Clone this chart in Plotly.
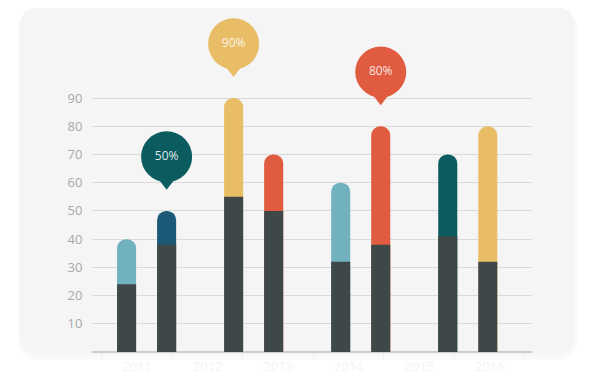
import plotly.graph_objects as go

# ---- data ----
groups = [0, 1, 2, 3]
left_base = [24, 55, 32, 41]
left_total = [40, 90, 60, 70]
right_base = [38, 50, 38, 32]
right_total = [50, 70, 80, 80]
left_colors = ["#72b2bf", "#e9bd66", "#72b2bf", "#0b5c5f"]
right_colors = ["#1b5977", "#e05b3f", "#e05b3f", "#e9bd66"]
base_color = "#3e4848"

years = ["2011", "2012", "2013", "2014", "2015", "2016"]
y_ticks = [10, 20, 30, 40, 50, 60, 70, 80, 90]

# pins: (group, side, colour)
pin_groups = [0, 1, 2]
pin_sides = ["R", "L", "R"]
pin_colors = ["#0b5c5f", "#e9bd66", "#e05b3f"]

# page body has an 8px margin: lay out in reference pixel coords minus OFF
OFF = 8
W, H = 593 - OFF, 386 - OFF
ML, MR, MT, MB = 92 - OFF, 593 - 532, 10 - OFF, 386 - 352
PW, PH = W - ML - MR, H - MT - MB

BW = 0.178      # bar width (axis units)
HALF = 0.187    # centre offset of each bar from the group centre
side_offset = {"L": -HALF - BW / 2, "R": HALF - BW / 2}

fig = go.Figure()

def bar(values, colors, side, rounded):
    fig.add_trace(go.Bar(
        x=groups, y=values, width=BW, offset=side_offset[side],
        marker=dict(color=colors, line=dict(width=0), cornerradius="50%" if rounded else 0),
        hoverinfo="skip", showlegend=False))

bar(left_total, left_colors, "L", True)
bar(right_total, right_colors, "R", True)
bar(left_base, base_color, "L", False)
bar(right_base, base_color, "R", False)

# pins
all_total = {"L": left_total, "R": right_total}
for side in ["L", "R"]:
    idx = [i for i, s in enumerate(pin_sides) if s == side]
    xs = [pin_groups[i] for i in idx]
    tots = [all_total[side][pin_groups[i]] for i in idx]
    cols = [pin_colors[i] for i in idx]
    fig.add_trace(go.Scatter(
        x=xs, y=[t + 10.3 for t in tots], mode="markers", offsetgroup=side,
        alignmentgroup="p",
        marker=dict(symbol="triangle-down", size=16, color=cols, line=dict(width=0)),
        hoverinfo="skip", showlegend=False))
    fig.add_trace(go.Scatter(
        x=xs, y=[t + 19.2 for t in tots], mode="markers+text", offsetgroup=side,
        alignmentgroup="p",
        text=[f"{t}%" for t in tots], textposition="middle center",
        textfont=dict(color="rgba(255,255,255,0.88)", size=12, family="Open Sans"),
        marker=dict(symbol="circle", size=51, color=cols, line=dict(width=0)),
        hoverinfo="skip", showlegend=False))

# year labels axis
fig.add_trace(go.Scatter(x=years, y=[0] * len(years), xaxis="x2", mode="markers",
                         marker=dict(opacity=0), hoverinfo="skip", showlegend=False))

def rr_path(x0, y0, x1, y1, r):
    # coordinates given in reference-page pixels
    x0, x1, y0, y1 = x0 - OFF, x1 - OFF, y0 - OFF, y1 - OFF
    rx, ry = r / PW, r / PH
    X0, X1 = (x0 - ML) / PW, (x1 - ML) / PW
    Y0, Y1 = (H - MB - y1) / PH, (H - MB - y0) / PH
    return (f"M{X0+rx},{Y1} L{X1-rx},{Y1} Q{X1},{Y1} {X1},{Y1-ry} "
            f"L{X1},{Y0+ry} Q{X1},{Y0} {X1-rx},{Y0} L{X0+rx},{Y0} "
            f"Q{X0},{Y0} {X0},{Y0+ry} L{X0},{Y1-ry} Q{X0},{Y1} {X0+rx},{Y1} Z")

shapes = [
    dict(type="path", xref="paper", yref="paper", path=rr_path(18, 9, 577, 360, 22),
         fillcolor="#fafafa", line=dict(width=0), layer="below"),
    dict(type="path", xref="paper", yref="paper", path=rr_path(20, 7, 575, 355, 20),
         fillcolor="#f5f5f5", line=dict(width=0), layer="below"),
]

fig.update_layout(
    width=W, height=H,
    margin=dict(l=ML, r=MR, t=MT, b=MB, autoexpand=False),
    paper_bgcolor="#ffffff", plot_bgcolor="rgba(0,0,0,0)",
    barmode="overlay",
    scattermode="group", scattergap=0.252,
    shapes=shapes,
    font=dict(family="Open Sans", color="#a9a9a9", size=13),
    xaxis=dict(type="linear", range=[-0.51, 3.6], showticklabels=False, showgrid=False,
               zeroline=False, showline=False, ticks=""),
    xaxis2=dict(type="category", categoryarray=years, overlaying="x", side="bottom",
                range=[-0.64, 5.6], ticks="outside", tickson="boundaries", ticklen=6,
                ticklabelstandoff=5,
                tickcolor="#ededed", tickfont=dict(color="#f4f4f4", size=13),
                showgrid=False, zeroline=False, showline=False),
    yaxis=dict(range=[0, 121.2], tickvals=y_ticks, showgrid=True, gridcolor="#dadada",
               gridwidth=1, zeroline=True, zerolinecolor="#cdcdcd", zerolinewidth=1.5,
               ticks="outside", ticklen=6, tickcolor="rgba(0,0,0,0)",
               tickfont=dict(color="#a9a9a9", size=13), showline=False),
)

fig.write_html("out.html")
